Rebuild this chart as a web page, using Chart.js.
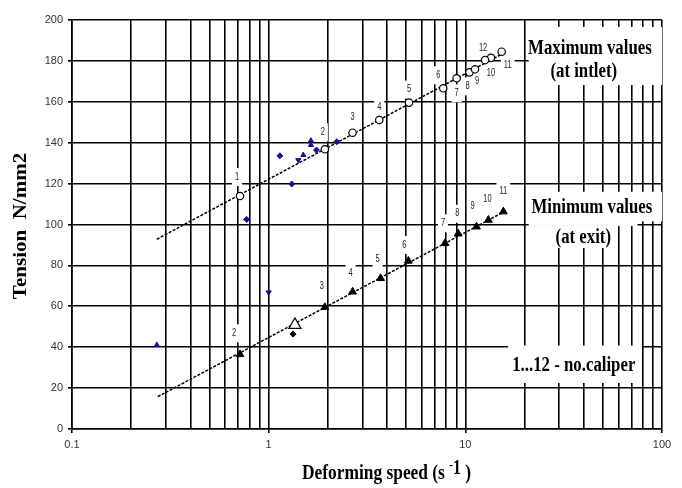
<!DOCTYPE html>
<html>
<head>
<meta charset="utf-8">
<script src="https://cdn.jsdelivr.net/npm/chart.js@4.4.0/dist/chart.umd.min.js"></script>
<style>
  html, body { margin: 0; padding: 0; background: #fff; }
</style>
</head>
<body>
<canvas id="chart" width="682" height="488"></canvas>
<script>
// ── data ─────────────────────────────────────────────────
// maximum values (at inlet), open circles, caliper no. 1..12
const maxCaliper = ['1', '2', '3', '4', '5', '6', '7', '8', '9', '10', '11', '12'];
const maxX = [0.715, 1.93, 2.67, 3.65, 5.17, 7.72, 9.03, 10.5, 11.2, 13.5, 15.3, 12.6];
const maxY = [113.9, 136.8, 144.9, 151.1, 159.6, 166.6, 171.5, 174.4, 175.9, 181.5, 184.5, 180.4];

// minimum values (at exit), filled triangles, caliper no. 2..11
const minCaliper = ['2', '3', '4', '5', '6', '7', '8', '9', '10', '11'];
const minX = [0.715, 1.93, 2.67, 3.71, 5.13, 7.88, 9.2, 11.4, 13.1, 15.6];
const minY = [36.5, 59.5, 67.1, 73.7, 82.2, 90.8, 95.5, 98.9, 102.2, 106.3];

// loose blue measurements
const blueDiamondX = [1.14, 1.31, 0.773, 1.75, 2.22];
const blueDiamondY = [133.6, 119.8, 102.5, 136.4, 140.5];
const blueUpX = [1.50, 1.64, 1.64, 0.27];
const blueUpY = [134.0, 138.9, 141.0, 41.1];
const blueDownX = [1.415, 1.0];
const blueDownY = [131.5, 66.8];

// odd black points near x = 1.3
const openTriX = [1.36];
const openTriY = [50.9];
const blackDotX = [1.33];
const blackDotY = [46.4];

// fitted lines (straight on the log axis)
const maxFitX = [0.27, 15.8];
const maxFitY = [92.8, 184.0];
const minFitX = [0.273, 16.3];
const minFitY = [15.8, 107.0];

// axes
const xGrid = [0.1, 0.2, 0.3, 0.4, 0.5, 0.6, 0.7, 0.8, 0.9,
               1, 2, 3, 4, 5, 6, 7, 8, 9,
               10, 20, 30, 40, 50, 60, 70, 80, 90, 100];
const xTickLabels = [0.1, 1, 10, 100];
const yTicks = [0, 20, 40, 60, 80, 100, 120, 140, 160, 180, 200];

// ── layout / style ───────────────────────────────────────
const BLUE = '#14148c';
const SERIF = '"Liberation Serif", "Times New Roman", serif';
const SANS = '"Liberation Sans", Arial, sans-serif';

// label offsets in px from each point
const maxLabelDx = [-3, -2, 0, 0, 0, -5, 0, -2, 2, 0, 6, -2];
const maxLabelDy = [-19, -17, -15, -13, -13, -13, 15, 14, 12, 15, 14, -12];
const minLabelDx = [-6, -3, -2, -3, -4, -2, -1, -4, -1, 0];
const minLabelDy = [-21, -21, -19, -19, -16, -20, -20, -20, -21, -20];

// text notes, anchored in data space
const NOTES = [
  { text: 'Maximum values', x: 43, y: 186 },
  { text: '(at intlet)', x: 40, y: 174.6 },
  { text: 'Minimum values', x: 44, y: 108.1 },
  { text: '(at exit)', x: 39.8, y: 93.4 },
  { text: '1...12 - no.caliper', x: 35.6, y: 30.8 },
];
// white patches behind the notes: x0, x1, yTop, yBottom
const NOTE_BOXES = [
  [21, 100, 196.6, 168.2],
  [21, 75, 116, 99.3],
  [75, 100, 116, 101.5],
  [21, 57, 99.3, 88.5],
  [16.5, 79, 40.8, 22.5],
];

const pts = (xs, ys) => xs.map((v, i) => ({ x: v, y: ys[i] }));

// draw text squeezed horizontally (the original is narrow)
function squeezed(ctx, text, x, y, font, sx, align) {
  ctx.save();
  ctx.translate(x, y);
  ctx.scale(sx, 1);
  ctx.font = font;
  ctx.textAlign = align || 'center';
  ctx.textBaseline = 'middle';
  ctx.fillText(text, 0, 0);
  ctx.restore();
}

const overlay = {
  id: 'overlay',
  beforeDatasetsDraw(chart) {
    const { ctx, scales: { x, y } } = chart;
    ctx.save();
    ctx.fillStyle = '#fff';
    NOTE_BOXES.forEach(b => {
      const x0 = x.getPixelForValue(b[0]), x1 = x.getPixelForValue(b[1]);
      const y0 = y.getPixelForValue(b[2]), y1 = y.getPixelForValue(b[3]);
      ctx.fillRect(x0, y0, x1 - x0, y1 - y0);
    });

    // point number labels, with white patch behind
    const labels = [];
    maxCaliper.forEach((t, i) => labels.push({
      t, px: x.getPixelForValue(maxX[i]) + maxLabelDx[i], py: y.getPixelForValue(maxY[i]) + maxLabelDy[i],
    }));
    minCaliper.forEach((t, i) => labels.push({
      t, px: x.getPixelForValue(minX[i]) + minLabelDx[i], py: y.getPixelForValue(minY[i]) + minLabelDy[i],
    }));
    ctx.font = '10px ' + SANS;
    labels.forEach(l => {
      const w = ctx.measureText(l.t).width * 0.75;
      ctx.fillRect(l.px - w / 2 - 3, l.py - 9, w + 6, 18);
    });
    ctx.fillStyle = '#222';
    labels.forEach(l => squeezed(ctx, l.t, l.px, l.py, '10px ' + SANS, 0.75));

    ctx.fillStyle = '#000';
    NOTES.forEach(n => squeezed(ctx, n.text, x.getPixelForValue(n.x), y.getPixelForValue(n.y), 'bold 20px ' + SERIF, 0.84));
    ctx.restore();
  },
  afterDraw(chart) {
    const { ctx } = chart;
    ctx.save();
    ctx.fillStyle = '#000';
    // y title
    ctx.translate(21, 226);
    ctx.rotate(-Math.PI / 2);
    ctx.scale(1, 0.85);
    ctx.font = 'bold 21px ' + SERIF;
    ctx.textAlign = 'center';
    ctx.textBaseline = 'middle';
    ctx.fillText('Tension  N/mm2', 0, 0);
    ctx.restore();

    // x title with superscript
    ctx.save();
    ctx.fillStyle = '#000';
    ctx.textBaseline = 'alphabetic';
    const sx = 0.79;
    let cx = 302;
    const base = 479;
    const part = (txt, font, dy) => {
      ctx.save();
      ctx.translate(cx, base + dy);
      ctx.scale(sx, 1);
      ctx.font = font;
      ctx.textAlign = 'left';
      ctx.fillText(txt, 0, 0);
      cx += ctx.measureText(txt).width * sx;
      ctx.restore();
    };
    part('Deforming speed (s ', 'bold 22px ' + SERIF, 0);
    part('-', 'bold 14px ' + SERIF, -10);
    part('1', 'bold 20px ' + SERIF, -5);
    part(' )', 'bold 22px ' + SERIF, 0);
    ctx.restore();
  },
};

const dash = { showLine: true, pointRadius: 0, borderColor: '#000', borderWidth: 1.5, borderDash: [3, 1.5], fill: false };

new Chart(document.getElementById('chart'), {
  type: 'scatter',
  data: {
    datasets: [
      { data: pts(maxX, maxY), pointStyle: 'circle', pointRadius: 3.7, borderColor: '#000', backgroundColor: '#fff', borderWidth: 1.2 },
      { data: pts(minX, minY), pointStyle: 'triangle', pointRadius: 4.5, borderColor: '#000', backgroundColor: '#000', borderWidth: 1 },
      { data: pts(openTriX, openTriY), pointStyle: 'triangle', pointRadius: 7, borderColor: '#000', backgroundColor: '#fff', borderWidth: 1.2 },
      { data: pts(blackDotX, blackDotY), pointStyle: 'rectRot', pointRadius: 3, borderColor: '#000', backgroundColor: '#000', borderWidth: 1 },
      { data: pts(blueDiamondX, blueDiamondY), pointStyle: 'rectRot', pointRadius: 3, borderColor: BLUE, backgroundColor: BLUE, borderWidth: 1 },
      { data: pts(blueUpX, blueUpY), pointStyle: 'triangle', pointRadius: 3, borderColor: BLUE, backgroundColor: BLUE, borderWidth: 1 },
      { data: pts(blueDownX, blueDownY), pointStyle: 'triangle', rotation: 180, pointRadius: 3, borderColor: BLUE, backgroundColor: BLUE, borderWidth: 1 },
      { data: pts(maxFitX, maxFitY), ...dash },
      { data: pts(minFitX, minFitY), ...dash },
    ],
  },
  options: {
    responsive: false,
    animation: false,
    layout: { padding: { left: 30, right: 20, top: 20, bottom: 0 } },
    plugins: { legend: { display: false }, tooltip: { enabled: false } },
    scales: {
      x: {
        type: 'logarithmic',
        min: 0.1, max: 100,
        afterBuildTicks: s => { s.ticks = xGrid.map(v => ({ value: v })); },
        afterFit: s => { s.height = 59; s.paddingLeft = 0; s.paddingRight = 0; },
        ticks: {
          autoSkip: false, maxRotation: 0, padding: 5,
          color: '#333', font: { family: SANS, size: 11 },
          callback: v => xTickLabels.includes(v) ? String(v) : '',
        },
        grid: {
          color: '#000', lineWidth: 1.6, tickLength: 4,
          tickColor: c => (c.tick && xTickLabels.includes(c.tick.value)) ? '#000' : 'rgba(0,0,0,0)',
        },
        border: { color: '#000', width: 1.6 },
      },
      y: {
        min: 0, max: 200,
        afterBuildTicks: s => { s.ticks = yTicks.map(v => ({ value: v })); },
        afterFit: s => { s.width = 42; s.paddingTop = 0; s.paddingBottom = 0; },
        ticks: { padding: 5, color: '#333', font: { family: SANS, size: 11 } },
        grid: { color: '#000', lineWidth: 1.6, tickLength: 4, tickColor: '#000' },
        border: { color: '#000', width: 1.6 },
      },
    },
  },
  plugins: [overlay],
});
</script>
</body>
</html>
